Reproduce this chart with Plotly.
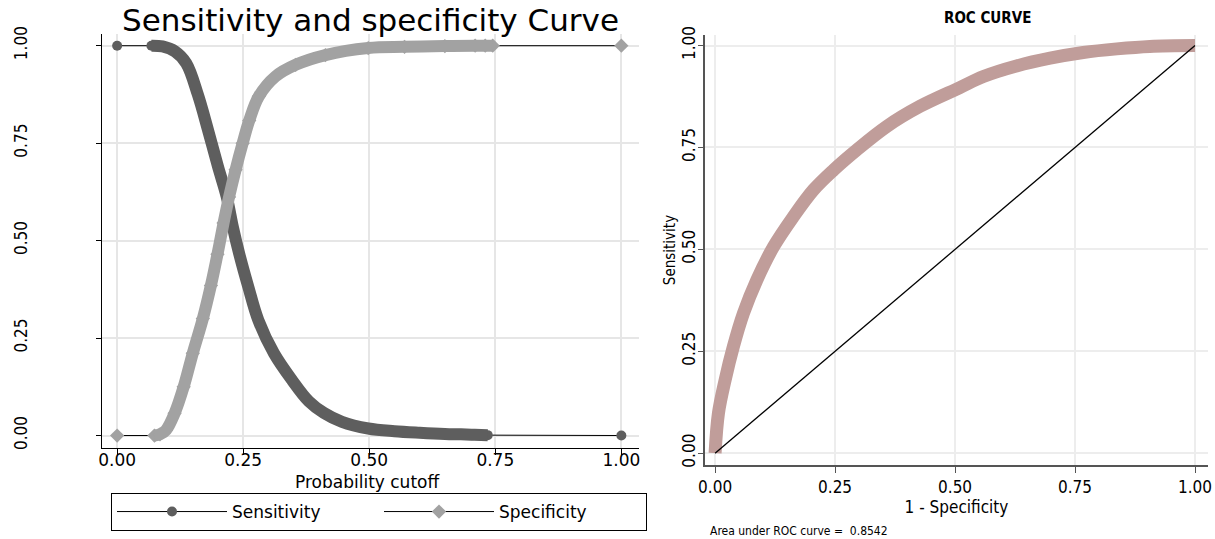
import plotly.graph_objects as go

# ---------------- data ----------------
cutoff_sens = [0.0, 0.068, 0.09, 0.115, 0.137, 0.160, 0.180, 0.200, 0.217, 0.230, 0.242,
               0.260, 0.280, 0.311, 0.347, 0.380, 0.41, 0.446, 0.498, 0.55, 0.60, 0.65,
               0.682, 0.709, 0.735, 1.0]
sensitivity = [1.0, 1.0, 0.998, 0.985, 0.955, 0.875, 0.785, 0.690, 0.614, 0.532, 0.467,
               0.382, 0.296, 0.211, 0.142, 0.088, 0.058, 0.035, 0.018, 0.011, 0.007, 0.004,
               0.003, 0.002, 0.001, 0.0]

cutoff_spec = [0.0, 0.074, 0.085, 0.097, 0.114, 0.132, 0.150, 0.170, 0.186, 0.199, 0.211,
               0.222, 0.235, 0.249, 0.262, 0.281, 0.314, 0.354, 0.413, 0.498, 0.57,
               0.65, 0.71, 0.73, 0.745, 1.0]
specificity = [0.0, 0.0, 0.003, 0.014, 0.057, 0.125, 0.211, 0.300, 0.385, 0.465, 0.545,
               0.612, 0.682, 0.750, 0.808, 0.870, 0.921, 0.951, 0.976, 0.994, 0.997,
               0.999, 1.0, 1.0, 1.0, 1.0]

roc_fpr = [0.0, 0.007, 0.021, 0.038, 0.059, 0.087, 0.122, 0.163, 0.205, 0.247, 0.295,
           0.358, 0.427, 0.51, 0.559, 0.628, 0.698, 0.767, 0.837, 0.906, 1.0]
roc_tpr = [0.0, 0.098, 0.18, 0.261, 0.343, 0.425, 0.507, 0.580, 0.646, 0.695, 0.744,
           0.802, 0.851, 0.897, 0.924, 0.950, 0.969, 0.983, 0.992, 0.998, 1.0]

ref_line = [0.0, 1.0]
tick_vals = [0, 0.25, 0.5, 0.75, 1.0]
tick_text = ["0.00", "0.25", "0.50", "0.75", "1.00"]
auc_value = 0.8542

# ---------------- styles ----------------
SENS_C = "#5e5e5e"
SPEC_C = "#a2a2a2"
ROC_C = "#c09d9a"
GRID_C = "#e6e6e6"
FONT = "DejaVu Sans, Liberation Sans, sans-serif"
ARIAL = "Liberation Sans, Arial, sans-serif"
NARROW = "Liberation Sans Narrow, DejaVu Sans Condensed, Roboto Condensed, Liberation Sans, sans-serif"
BAND_W = 12

fig = go.Figure()

# thin connectors + markers (legend entries)
fig.add_trace(go.Scatter(x=cutoff_sens, y=sensitivity, mode="lines+markers", name="Sensitivity",
                         line=dict(color="black", width=1),
                         marker=dict(symbol="circle", size=10, color=SENS_C),
                         xaxis="x", yaxis="y"))
fig.add_trace(go.Scatter(x=cutoff_spec, y=specificity, mode="lines+markers", name="Specificity",
                         line=dict(color="black", width=1),
                         marker=dict(symbol="diamond", size=11, color=SPEC_C),
                         xaxis="x", yaxis="y"))
# thick bands (dense markers) drawn over the connectors
fig.add_trace(go.Scatter(x=cutoff_sens[1:-1], y=sensitivity[1:-1], mode="lines",
                         line=dict(color=SENS_C, width=BAND_W, shape="spline", smoothing=1.0),
                         showlegend=False, hoverinfo="skip", xaxis="x", yaxis="y"))
fig.add_trace(go.Scatter(x=cutoff_spec[1:-1], y=specificity[1:-1], mode="lines",
                         line=dict(color=SPEC_C, width=BAND_W, shape="spline", smoothing=1.0),
                         showlegend=False, hoverinfo="skip", xaxis="x", yaxis="y"))

# ROC panel
fig.add_trace(go.Scatter(x=roc_fpr, y=roc_tpr, mode="lines",
                         line=dict(color=ROC_C, width=13, shape="spline", smoothing=1.0),
                         showlegend=False, hoverinfo="skip", xaxis="x2", yaxis="y2"))
fig.add_trace(go.Scatter(x=ref_line, y=ref_line, mode="lines",
                         line=dict(color="black", width=1.3),
                         showlegend=False, hoverinfo="skip", xaxis="x2", yaxis="y2"))

W, H = 1215, 539

def fx(px):
    return px / W

def fy(py):
    return (H - py) / H

fig.update_layout(
    width=W, height=H,
    margin=dict(l=0, r=0, t=0, b=0, autoexpand=False),
    paper_bgcolor="white", plot_bgcolor="white",
    font=dict(family=ARIAL, color="black"),
    xaxis=dict(domain=[fx(102), fx(639)], range=[-0.03, 1.035], automargin=False,
               tickvals=tick_vals, ticktext=tick_text,
               showgrid=True, gridcolor=GRID_C, gridwidth=2,
               showline=True, linecolor="black", linewidth=1.2,
               ticks="outside", ticklen=6, tickcolor="black",
               tickfont=dict(size=17, family=FONT), ticklabelstandoff=-10,
               zeroline=False, anchor="y"),
    yaxis=dict(domain=[fy(448), fy(34)], range=[-0.032, 1.03], automargin=False,
               tickvals=tick_vals, ticktext=tick_text, tickangle=-90,
               showgrid=True, gridcolor=GRID_C, gridwidth=2,
               showline=True, linecolor="black", linewidth=1.2,
               ticks="outside", ticklen=5, tickcolor="black",
               tickfont=dict(size=17, family=NARROW),
               ticklabelstandoff=62,
               zeroline=False, anchor="x"),
    xaxis2=dict(domain=[fx(705), fx(1208)], range=[-0.021, 1.027], automargin=False,
                tickvals=tick_vals, ticktext=tick_text,
                showgrid=True, gridcolor="#ededed", gridwidth=1.5,
                showline=True, linecolor="#555555", linewidth=1.5,
                ticks="outside", ticklen=6, tickcolor="#555555",
                tickfont=dict(size=17, family=NARROW),
                title=dict(text="1 - Specificity", font=dict(size=17, family=NARROW), standoff=0),
                zeroline=False, anchor="y2"),
    yaxis2=dict(domain=[fy(465), fy(35)], range=[-0.029, 1.026], automargin=False,
                tickvals=tick_vals, ticktext=tick_text, tickangle=-90,
                showgrid=True, gridcolor="#ededed", gridwidth=1.5,
                showline=True, linecolor="#555555", linewidth=1.5,
                ticks="outside", ticklen=5, tickcolor="#555555",
                tickfont=dict(size=17, family=NARROW), ticklabelstandoff=-4,
                title=dict(text="Sensitivity", font=dict(size=15, family=NARROW), standoff=0),
                zeroline=False, anchor="x2"),
    legend=dict(orientation="h", x=fx(111), y=fy(493), xanchor="left", yanchor="top",
                bordercolor="black", borderwidth=1, font=dict(size=17, family=FONT),
                entrywidth=142, itemwidth=110, tracegroupgap=0),
    annotations=[
        dict(text="Sensitivity and specificity Curve", x=fx(370), y=fy(20), xref="paper", yref="paper",
             showarrow=False, font=dict(size=31, family=FONT), xanchor="center", yanchor="middle"),
        dict(text="Probability cutoff", x=fx(367), y=fy(482), xref="paper", yref="paper",
             showarrow=False, font=dict(size=17, family=FONT), xanchor="center", yanchor="middle"),
        dict(text="<b>ROC CURVE</b>", x=fx(987), y=fy(18), xref="paper", yref="paper",
             showarrow=False, font=dict(size=15, family=NARROW), xanchor="center", yanchor="middle"),
        dict(text=f"Area under ROC curve =  {auc_value:.4f}", x=fx(708), y=fy(531), xref="paper", yref="paper",
             showarrow=False, font=dict(size=12, family=NARROW), xanchor="left", yanchor="middle"),
    ],
)

fig.write_html("out.html", config={"displayModeBar": False},
               post_script="document.body.style.margin='0px';")
